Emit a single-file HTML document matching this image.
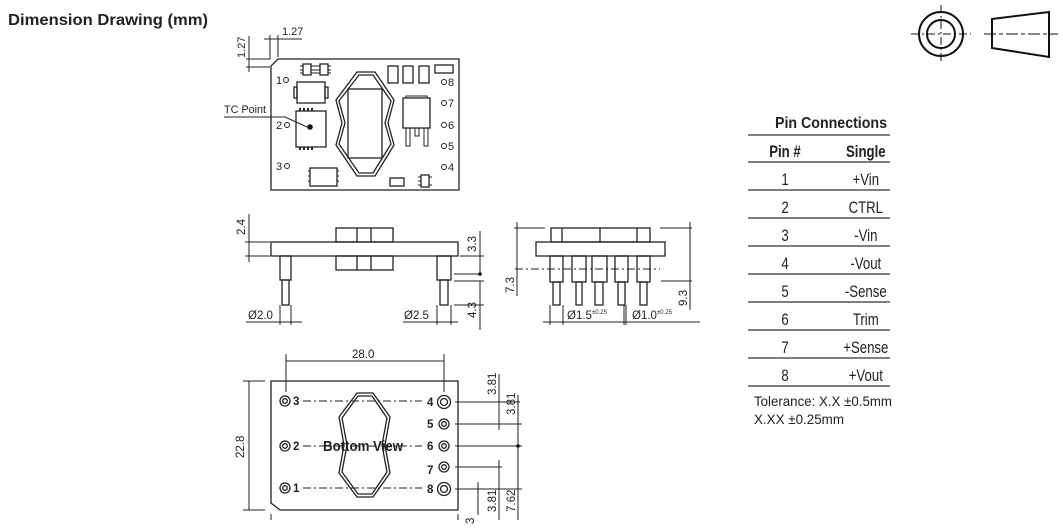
<!DOCTYPE html>
<html><head><meta charset="utf-8"><style>
html,body{margin:0;padding:0;background:#fff}
svg{display:block}
text{font-family:"Liberation Sans",sans-serif;fill:#222}
</style></head><body>
<svg width="1063" height="532" viewBox="0 0 1063 532" xmlns="http://www.w3.org/2000/svg">
<text x="8" y="25" font-size="16" font-weight="bold" textLength="200" lengthAdjust="spacingAndGlyphs">Dimension Drawing (mm)</text>

<!-- TOP VIEW -->
<g stroke="#222" fill="none" stroke-width="1.3">
<path d="M278 59 H459 V190 H271 V66 Z"/>
<line x1="270" y1="35" x2="270" y2="59" stroke-width="1"/>
<line x1="278" y1="35" x2="278" y2="57" stroke-width="1"/>
<line x1="264" y1="39" x2="302" y2="39" stroke-width="1"/>
<line x1="246" y1="59" x2="270" y2="59" stroke-width="1"/>
<line x1="246" y1="67" x2="270" y2="67" stroke-width="1"/>
<line x1="249" y1="36" x2="249" y2="72" stroke-width="1"/>
<rect x="303" y="64" width="8" height="11"/><rect x="320" y="64" width="8" height="11"/>
<path d="M300 66h3M300 70h3M300 73h3M311 66h9M311 70h9M311 73h9M328 66h3M328 70h3M328 73h3" stroke-width="1"/>
<rect x="297" y="82" width="28" height="21"/>
<rect x="294" y="87" width="3" height="11"/><rect x="325" y="87" width="3" height="11"/>
<rect x="296" y="111" width="30" height="36"/>
<path d="M300 108v3M304 108v3M308 108v3M312 108v3M300 147v3M304 147v3M308 147v3M312 147v3" stroke-width="2"/>
<path d="M224 117 H285 L307 127" stroke-width="1"/>
<path d="M357 72 H375 L394 100 L388 123 L394 145 L375 176 H357 L336 145 L342 123 L336 100 Z"/>
<path d="M359 75 H373 L391 101 L385 123 L391 144 L373 173 H359 L339 144 L345 123 L339 101 Z"/>
<rect x="348" y="89" width="34" height="69"/>
<rect x="388" y="66" width="10" height="17"/><rect x="403" y="66" width="10" height="17"/><rect x="419" y="66" width="10" height="17"/>
<rect x="435" y="65" width="18" height="8"/>
<rect x="403" y="98" width="27" height="30"/>
<path d="M406 98 v-2 h21 v2" stroke-width="1"/>
<rect x="406" y="128" width="4" height="18" stroke-width="1"/><rect x="415" y="128" width="4" height="8" stroke-width="1"/><rect x="424" y="128" width="4" height="18" stroke-width="1"/>
<rect x="310" y="168" width="27" height="18"/>
<path d="M308 171h2M308 176h2M308 181h2M337 171h2M337 176h2M337 181h2" stroke-width="1"/>
<rect x="390" y="178" width="14" height="8"/>
<rect x="421" y="175" width="8" height="12"/>
<path d="M418 177h3M418 181h3M418 185h3M429 177h3M429 185h3" stroke-width="1"/>
<circle cx="286" cy="80" r="2.5" stroke-width="1"/><circle cx="287" cy="125" r="2.5" stroke-width="1"/><circle cx="287" cy="166" r="2.5" stroke-width="1"/>
<circle cx="444" cy="82" r="2.5" stroke-width="1"/><circle cx="444" cy="103" r="2.5" stroke-width="1"/><circle cx="444" cy="125" r="2.5" stroke-width="1"/><circle cx="444" cy="146" r="2.5" stroke-width="1"/><circle cx="444" cy="167" r="2.5" stroke-width="1"/>
</g>
<circle cx="310" cy="127" r="2.8" fill="#111"/>
<g font-size="11">
<text x="282" y="35">1.27</text>
<text transform="translate(245,58) rotate(-90)">1.27</text>
<text x="224" y="113" textLength="42" lengthAdjust="spacingAndGlyphs">TC Point</text>
<text x="276" y="84">1</text><text x="276" y="129">2</text><text x="276" y="170">3</text>
<text x="448" y="86">8</text><text x="448" y="107">7</text><text x="448" y="129">6</text><text x="448" y="150">5</text><text x="448" y="171">4</text>
</g>

<!-- SIDE VIEW -->
<g stroke="#222" fill="none" stroke-width="1.3">
<rect x="271" y="242" width="187" height="14"/>
<rect x="336" y="228" width="57" height="14"/><line x1="357" y1="228" x2="357" y2="242"/><line x1="371" y1="228" x2="371" y2="242"/>
<rect x="336" y="256" width="57" height="14"/><line x1="357" y1="256" x2="357" y2="270"/><line x1="371" y1="256" x2="371" y2="270"/>
<rect x="280" y="256" width="11" height="24"/><rect x="282" y="280" width="7" height="25"/>
<rect x="437" y="256" width="14" height="24"/><rect x="440" y="280" width="8" height="25"/>
<g stroke-width="1">
<line x1="249" y1="214" x2="249" y2="262"/>
<line x1="245" y1="242" x2="270" y2="242"/><line x1="245" y1="256" x2="270" y2="256"/>
<line x1="460" y1="256" x2="484" y2="256"/><line x1="480" y1="231" x2="480" y2="274"/>
<line x1="454" y1="274" x2="480" y2="274"/>
<line x1="454" y1="281" x2="484" y2="281"/><line x1="454" y1="305" x2="484" y2="305"/>
<line x1="480" y1="281" x2="480" y2="330"/>
<line x1="246" y1="322" x2="302" y2="322"/><line x1="280" y1="305" x2="280" y2="325"/><line x1="291" y1="305" x2="291" y2="325"/>
<line x1="403" y1="322" x2="458" y2="322"/><line x1="437" y1="305" x2="437" y2="325"/><line x1="451" y1="305" x2="451" y2="325"/>
</g>
</g>
<circle cx="480" cy="274" r="1.8" fill="#111"/>
<g font-size="11.5">
<text transform="translate(245,235) rotate(-90)">2.4</text>
<text transform="translate(476,252) rotate(-90)">3.3</text>
<text transform="translate(476,318) rotate(-90)">4.3</text>
<text x="248" y="319">Ø2.0</text>
<text x="404" y="319">Ø2.5</text>
</g>

<!-- FRONT VIEW -->
<g stroke="#222" fill="none" stroke-width="1.3">
<rect x="536" y="242" width="129" height="14"/>
<rect x="551" y="228" width="99" height="14"/><line x1="562" y1="228" x2="562" y2="242"/><line x1="600" y1="228" x2="600" y2="242"/><line x1="637" y1="228" x2="637" y2="242"/>
<rect x="550" y="256" width="13" height="26"/><rect x="572" y="256" width="14" height="26"/><rect x="592" y="256" width="15" height="26"/><rect x="615" y="256" width="13" height="26"/><rect x="637" y="256" width="13" height="26"/>
<rect x="553" y="282" width="7" height="23"/><rect x="576" y="282" width="6" height="23"/><rect x="595" y="282" width="8" height="23"/><rect x="618" y="282" width="7" height="23"/><rect x="640" y="282" width="7" height="23"/>
<g stroke-width="1">
<line x1="515" y1="269" x2="660" y2="269" stroke-dasharray="8 3 2 3"/>
<line x1="514" y1="228" x2="545" y2="228"/><line x1="517" y1="222" x2="517" y2="296"/>
<line x1="660" y1="228" x2="692" y2="228"/><line x1="661" y1="281" x2="692" y2="281"/>
<line x1="690" y1="222" x2="690" y2="310"/>
<line x1="543" y1="322" x2="700" y2="322"/>
<line x1="550" y1="305" x2="550" y2="325"/><line x1="563" y1="305" x2="563" y2="325"/><line x1="626" y1="305" x2="626" y2="325"/><line x1="624" y1="305" x2="624" y2="325"/>
</g>
</g>
<g font-size="11.5">
<text transform="translate(514,293) rotate(-90)">7.3</text>
<text transform="translate(687,306) rotate(-90)">9.3</text>
<text x="567" y="319">Ø1.5<tspan font-size="6" dy="-5">±0.25</tspan></text>
<text x="632" y="319">Ø1.0<tspan font-size="6" dy="-5">±0.25</tspan></text>
</g>

<!-- BOTTOM VIEW -->
<g stroke="#222" fill="none" stroke-width="1.3">
<path d="M271 381 H458 V510 H280 L271 503 Z"/>
<path d="M357 393 H373 L390 417 L385 445 L390 473 L373 497 H357 L339 473 L344 445 L339 417 Z"/>
<path d="M358 396 H372 L387 418 L382 445 L387 472 L372 494 H358 L342 472 L347 445 L342 418 Z"/>
<g stroke-width="1">
<line x1="303" y1="401" x2="422" y2="401" stroke-dasharray="8 3 2 3"/>
<line x1="303" y1="446" x2="422" y2="446" stroke-dasharray="8 3 2 3"/>
<line x1="303" y1="488" x2="422" y2="488" stroke-dasharray="8 3 2 3"/>
<line x1="286" y1="361" x2="444" y2="361"/><line x1="286" y1="354" x2="286" y2="392"/><line x1="444" y1="354" x2="444" y2="392"/>
<line x1="243" y1="381" x2="265" y2="381"/><line x1="243" y1="510" x2="265" y2="510"/><line x1="249" y1="381" x2="249" y2="510"/>
<line x1="455" y1="402" x2="520" y2="402"/><line x1="455" y1="424" x2="522" y2="424"/><line x1="455" y1="446" x2="522" y2="446"/><line x1="455" y1="467" x2="502" y2="467"/><line x1="455" y1="489" x2="522" y2="489"/>
<line x1="499" y1="374" x2="499" y2="430"/><line x1="499" y1="460" x2="499" y2="520"/>
<line x1="518" y1="395" x2="518" y2="520"/>
<line x1="478" y1="482" x2="478" y2="515"/>
<line x1="271" y1="514" x2="271" y2="520"/><line x1="458" y1="514" x2="458" y2="520"/>
</g>
<circle cx="285" cy="401" r="5"/><circle cx="285" cy="401" r="2.3"/>
<circle cx="285" cy="446" r="5"/><circle cx="285" cy="446" r="2.3"/>
<circle cx="285" cy="488" r="5"/><circle cx="285" cy="488" r="2.3"/>
<circle cx="444" cy="402" r="6.5"/><circle cx="444" cy="402" r="3.5"/>
<circle cx="444" cy="424" r="5"/><circle cx="444" cy="424" r="2.3"/>
<circle cx="444" cy="446" r="5"/><circle cx="444" cy="446" r="2.3"/>
<circle cx="444" cy="467" r="5"/><circle cx="444" cy="467" r="2.3"/>
<circle cx="444" cy="489" r="6.5"/><circle cx="444" cy="489" r="3.5"/>
</g>
<circle cx="518" cy="446" r="1.8" fill="#111"/>
<g font-size="11.5">
<text x="352" y="358">28.0</text>
<text transform="translate(244,458) rotate(-90)">22.8</text>
<text x="293" y="405" font-weight="bold">3</text><text x="293" y="450" font-weight="bold">2</text><text x="293" y="492" font-weight="bold">1</text>
<text x="427" y="406" font-weight="bold">4</text><text x="427" y="428" font-weight="bold">5</text><text x="427" y="450" font-weight="bold">6</text><text x="427" y="474" font-weight="bold">7</text><text x="427" y="493" font-weight="bold">8</text>
<text transform="translate(496,395) rotate(-90)">3.81</text>
<text transform="translate(515,415) rotate(-90)">3.81</text>
<text transform="translate(496,512) rotate(-90)">3.81</text>
<text transform="translate(515,512) rotate(-90)">7.62</text>
<text transform="translate(474,524) rotate(-90)">3</text>
</g>
<text x="323" y="451" font-size="15" font-weight="bold" textLength="80" lengthAdjust="spacingAndGlyphs">Bottom View</text>

<!-- symbol -->
<g stroke="#111" fill="none" stroke-width="2">
<circle cx="941" cy="34" r="22"/><circle cx="941" cy="34" r="14"/>
<path d="M992 19 L1049 12 V57 L992 48 Z"/>
<g stroke-width="1">
<line x1="911" y1="34" x2="971" y2="34" stroke-dasharray="8 3 2 3"/>
<line x1="941" y1="5" x2="941" y2="63" stroke-dasharray="8 3 2 3"/>
<line x1="984" y1="34" x2="1058" y2="34" stroke-dasharray="12 3 4 3"/>
</g>
</g>

<!-- table -->
<g stroke="#333" stroke-width="1.2">
<line x1="748" y1="135" x2="890" y2="135"/>
<line x1="748" y1="162" x2="890" y2="162"/>
<line x1="748" y1="190" x2="890" y2="190"/>
<line x1="748" y1="218" x2="890" y2="218"/>
<line x1="748" y1="246" x2="890" y2="246"/>
<line x1="748" y1="274" x2="890" y2="274"/>
<line x1="748" y1="302" x2="890" y2="302"/>
<line x1="748" y1="330" x2="890" y2="330"/>
<line x1="748" y1="358" x2="890" y2="358"/>
<line x1="748" y1="386" x2="890" y2="386"/>
</g>
<text x="831" y="128" font-size="16" font-weight="bold" text-anchor="middle" textLength="112" lengthAdjust="spacingAndGlyphs">Pin Connections</text>
<g font-size="16.5" text-anchor="middle" transform="matrix(0.8 0 0 1 157 0)">
<text x="785" y="157" font-weight="bold">Pin #</text>
<text x="785" y="185">1</text>
<text x="785" y="213">2</text>
<text x="785" y="241">3</text>
<text x="785" y="269">4</text>
<text x="785" y="297">5</text>
<text x="785" y="325">6</text>
<text x="785" y="353">7</text>
<text x="785" y="381">8</text>
</g>
<g font-size="16.5" text-anchor="middle" transform="matrix(0.8 0 0 1 173 0)">
<text x="866" y="157" font-weight="bold">Single</text>
<text x="866" y="185">+Vin</text>
<text x="866" y="213">CTRL</text>
<text x="866" y="241">-Vin</text>
<text x="866" y="269">-Vout</text>
<text x="866" y="297">-Sense</text>
<text x="866" y="325">Trim</text>
<text x="866" y="353">+Sense</text>
<text x="866" y="381">+Vout</text>
</g>
<g font-size="14">
<text x="754" y="406" textLength="138" lengthAdjust="spacingAndGlyphs">Tolerance: X.X ±0.5mm</text>
<text x="754" y="424" textLength="90" lengthAdjust="spacingAndGlyphs">X.XX ±0.25mm</text>
</g>
</svg>
</body></html>
